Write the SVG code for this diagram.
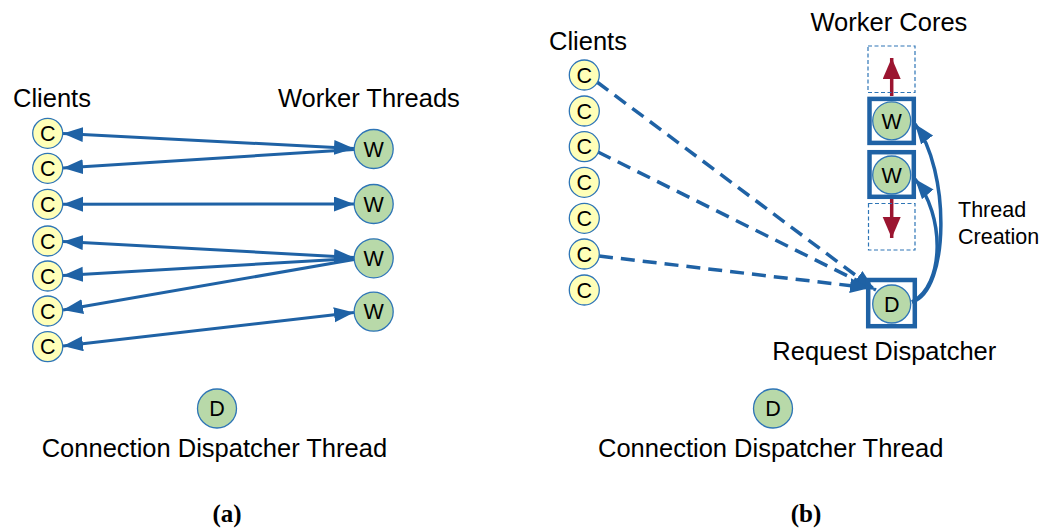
<svg xmlns="http://www.w3.org/2000/svg" width="1046" height="529" viewBox="0 0 1046 529">
  <style>
    .lbl { font-family: "Liberation Sans", Arial, sans-serif; font-size: 25.5px; fill: #000; }
    .lbl-sm { font-family: "Liberation Sans", Arial, sans-serif; font-size: 21.5px; fill: #000; }
    .cap { font-family: "Liberation Serif", "Times New Roman", serif; font-size: 25px; font-weight: bold; fill: #000; }
    .node-t { font-family: "Liberation Sans", Arial, sans-serif; font-size: 21.5px; fill: #000; text-anchor: middle; }
    .client { fill: #ffffb8; stroke: #2e75b6; stroke-width: 1.3; }
    .worker { fill: #b8d9a9; stroke: #2e75b6; stroke-width: 1.3; }
    .link { stroke: #1f62a5; stroke-width: 3; fill: none; }
    .dash { stroke: #1f62a5; stroke-width: 3.5; fill: none; stroke-dasharray: 14 8; }
    .spawn { stroke: #1f62a5; stroke-width: 3.5; fill: none; }
    .core { fill: none; stroke: #1f62a5; stroke-width: 4.5; }
    .slot { fill: none; stroke: #2e75b6; stroke-width: 1.2; stroke-dasharray: 4 2.5; }
    .migrate { stroke: #9b1530; stroke-width: 3.5; fill: none; }
  </style>
  <defs>
    <marker id="ah" markerUnits="userSpaceOnUse" markerWidth="22" markerHeight="16" refX="20" refY="7.5" orient="auto-start-reverse">
      <path d="M0,0 L20,7.5 L0,15 z" fill="#1f62a5"/>
    </marker>
    <marker id="ahr" markerUnits="userSpaceOnUse" markerWidth="22" markerHeight="20" refX="21" refY="9" orient="auto">
      <path d="M0,0 L21,9 L0,18 z" fill="#9b1530"/>
    </marker>
  </defs>

  <!-- ===== (a) thread-per-connection model ===== -->
  <text class="lbl" x="13" y="107">Clients</text>
  <text class="lbl" x="278" y="107">Worker Threads</text>

  <g id="a-links">
    <line class="link" x1="63" y1="133.5" x2="354" y2="148.5" marker-start="url(#ah)" marker-end="url(#ah)"/>
    <line class="link" x1="63" y1="168" x2="354" y2="149.5" marker-start="url(#ah)"/>
    <line class="link" x1="63" y1="204.3" x2="354" y2="204" marker-start="url(#ah)" marker-end="url(#ah)"/>
    <line class="link" x1="63" y1="241.5" x2="354" y2="257.5" marker-start="url(#ah)" marker-end="url(#ah)"/>
    <line class="link" x1="63" y1="275.5" x2="354" y2="258.5" marker-start="url(#ah)"/>
    <line class="link" x1="63" y1="310" x2="354" y2="259.5" marker-start="url(#ah)"/>
    <line class="link" x1="63" y1="346" x2="354" y2="312.5" marker-start="url(#ah)" marker-end="url(#ah)"/>
  </g>

  <!-- node letters: baseline sits ~7.7px below the circle centre -->
  <g id="a-c1"><circle class="client" cx="47.7" cy="133.3" r="15"/><text class="node-t" x="47.7" y="141">C</text></g>
  <g id="a-c2"><circle class="client" cx="47.7" cy="168.3" r="15"/><text class="node-t" x="47.7" y="176">C</text></g>
  <g id="a-c3"><circle class="client" cx="47.7" cy="204.3" r="15"/><text class="node-t" x="47.7" y="212">C</text></g>
  <g id="a-c4"><circle class="client" cx="47.7" cy="241" r="15"/><text class="node-t" x="47.7" y="248.7">C</text></g>
  <g id="a-c5"><circle class="client" cx="47.7" cy="276" r="15"/><text class="node-t" x="47.7" y="283.7">C</text></g>
  <g id="a-c6"><circle class="client" cx="47.7" cy="311" r="15"/><text class="node-t" x="47.7" y="318.7">C</text></g>
  <g id="a-c7"><circle class="client" cx="47.7" cy="346.7" r="15"/><text class="node-t" x="47.7" y="354.4">C</text></g>

  <g id="a-w1"><circle class="worker" cx="373.7" cy="149" r="19.5"/><text class="node-t" x="373.7" y="156.7">W</text></g>
  <g id="a-w2"><circle class="worker" cx="373.7" cy="204" r="19.5"/><text class="node-t" x="373.7" y="211.7">W</text></g>
  <g id="a-w3"><circle class="worker" cx="373.7" cy="258.3" r="19.5"/><text class="node-t" x="373.7" y="266">W</text></g>
  <g id="a-w4"><circle class="worker" cx="373.7" cy="311.7" r="19.5"/><text class="node-t" x="373.7" y="319.4">W</text></g>

  <g id="a-dispatcher">
    <circle class="worker" cx="217" cy="408.5" r="19.5"/><text class="node-t" x="217" y="416.2">D</text>
    <text class="lbl" x="41.7" y="457">Connection Dispatcher Thread</text>
  </g>
  <text class="cap" x="227" y="522" text-anchor="middle">(a)</text>

  <!-- ===== (b) request dispatch model ===== -->
  <text class="lbl" x="549" y="50">Clients</text>
  <text class="lbl" x="810.5" y="31">Worker Cores</text>
  <text class="lbl-sm" x="958" y="217">Thread</text>
  <text class="lbl-sm" x="958" y="244">Creation</text>
  <text class="lbl" x="772.3" y="360">Request Dispatcher</text>

  <g id="b-links">
    <line class="dash" x1="597" y1="82" x2="874" y2="289" marker-end="url(#ah)"/>
    <line class="dash" x1="598" y1="152" x2="876" y2="290" marker-end="url(#ah)"/>
    <line class="dash" x1="599" y1="256" x2="870" y2="288" marker-end="url(#ah)"/>
    <path class="spawn" d="M912,302 C950,290 950,170 915,124" marker-end="url(#ah)"/>
    <path class="spawn" d="M912,302 C945,285 945,215 915,179" marker-end="url(#ah)"/>
    <line class="migrate" x1="891.7" y1="96" x2="891.7" y2="58" marker-end="url(#ahr)"/>
    <line class="migrate" x1="891.7" y1="199" x2="891.7" y2="238" marker-end="url(#ahr)"/>
  </g>

  <g id="b-slot-top"><rect class="slot" x="868" y="46" width="47" height="46.5"/></g>
  <g id="b-slot-bottom"><rect class="slot" x="868.5" y="203.5" width="46.5" height="46.5"/></g>

  <g id="b-c1"><circle class="client" cx="584.3" cy="75" r="15"/><text class="node-t" x="584.3" y="82.7">C</text></g>
  <g id="b-c2"><circle class="client" cx="584.3" cy="111" r="15"/><text class="node-t" x="584.3" y="118.7">C</text></g>
  <g id="b-c3"><circle class="client" cx="584.3" cy="146.7" r="15"/><text class="node-t" x="584.3" y="154.4">C</text></g>
  <g id="b-c4"><circle class="client" cx="584.3" cy="182.3" r="15"/><text class="node-t" x="584.3" y="190">C</text></g>
  <g id="b-c5"><circle class="client" cx="584.3" cy="218.3" r="15"/><text class="node-t" x="584.3" y="226">C</text></g>
  <g id="b-c6"><circle class="client" cx="584.3" cy="254" r="15"/><text class="node-t" x="584.3" y="261.7">C</text></g>
  <g id="b-c7"><circle class="client" cx="584.3" cy="290" r="15"/><text class="node-t" x="584.3" y="297.7">C</text></g>

  <g id="b-w1">
    <rect class="core" x="869.5" y="98.9" width="44.3" height="44"/>
    <circle class="worker" cx="891.7" cy="120.8" r="19"/><text class="node-t" x="891.7" y="128.5">W</text>
  </g>
  <g id="b-w2">
    <rect class="core" x="869.5" y="152.2" width="44.3" height="44.6"/>
    <circle class="worker" cx="891.7" cy="175" r="19"/><text class="node-t" x="891.7" y="182.7">W</text>
  </g>
  <g id="b-d">
    <rect class="core" x="868.2" y="280" width="46.6" height="46.2"/>
    <circle class="worker" cx="891.7" cy="304" r="19"/><text class="node-t" x="891.7" y="311.7">D</text>
  </g>

  <g id="b-dispatcher">
    <circle class="worker" cx="773" cy="408.5" r="19.5"/><text class="node-t" x="773" y="416.2">D</text>
    <text class="lbl" x="598" y="457">Connection Dispatcher Thread</text>
  </g>
  <text class="cap" x="806" y="522" text-anchor="middle">(b)</text>
</svg>
